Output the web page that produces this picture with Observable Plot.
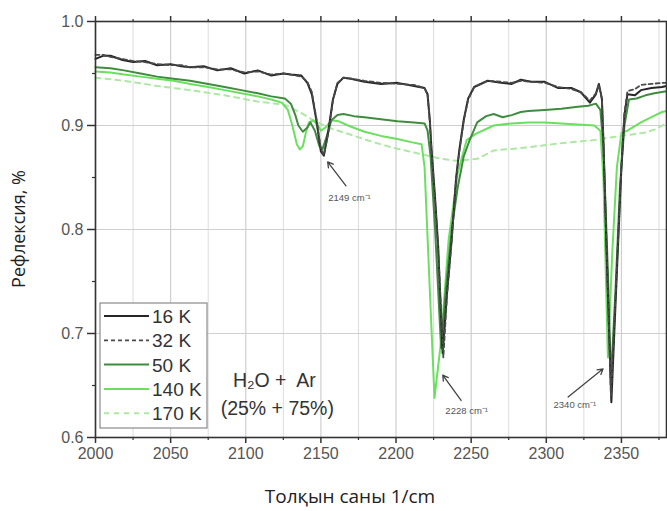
<!DOCTYPE html>
<html>
<head>
<meta charset="utf-8">
<script src="https://cdn.jsdelivr.net/npm/d3@7"></script>
<script src="https://cdn.jsdelivr.net/npm/@observablehq/plot@0.6"></script>
<style>
  html, body { margin: 0; padding: 0; background: #fff; }
  #chart { width: 667px; height: 511px; }
</style>
</head>
<body>
<div id="chart"></div>
<script>
// ---- data ----
const seriesNames = ["16 K", "32 K", "50 K", "140 K", "170 K"];

const wn16 = [2000,2005,2010,2018,2025,2033,2041,2050,2057,2063,2072,2081,2090,2099,2108,2117,2125,2130,2137,2141,2144,2147,2150,2152,2155,2158,2161,2165,2170,2179,2190,2201,2212,2219,2221,2222.5,2223.5,2226,2228,2231,2234,2237,2240,2242,2245,2248,2252,2261,2270,2277,2283,2290,2299,2308,2317,2323,2329,2333,2335,2337,2338,2340.5,2343.3,2347,2350,2352,2354,2359,2363,2370,2377,2380];
const r16  = [0.964,0.967,0.967,0.963,0.961,0.962,0.958,0.959,0.957,0.956,0.957,0.953,0.955,0.950,0.953,0.948,0.950,0.949,0.948,0.941,0.930,0.905,0.875,0.871,0.895,0.925,0.940,0.946,0.945,0.942,0.940,0.941,0.938,0.936,0.930,0.905,0.880,0.830,0.785,0.681,0.740,0.790,0.850,0.875,0.905,0.926,0.937,0.943,0.941,0.940,0.944,0.942,0.942,0.936,0.936,0.932,0.922,0.930,0.940,0.926,0.886,0.760,0.634,0.760,0.860,0.910,0.930,0.929,0.934,0.936,0.937,0.938];

const wn32 = [2000,2005,2010,2018,2025,2033,2041,2050,2057,2063,2072,2081,2090,2099,2108,2117,2125,2130,2137,2141,2144,2147,2150,2152,2155,2158,2161,2165,2170,2179,2190,2201,2212,2219,2221,2222.5,2223.5,2226,2228,2231.5,2234,2237,2240,2242,2245,2248,2252,2261,2270,2277,2283,2290,2299,2308,2317,2323,2329,2333,2335,2337,2338,2340.5,2343,2347,2350,2352,2354,2359,2363,2370,2377,2380];
const r32  = [0.968,0.968,0.966,0.964,0.962,0.961,0.959,0.958,0.958,0.956,0.956,0.954,0.954,0.951,0.952,0.949,0.950,0.949,0.947,0.942,0.932,0.907,0.877,0.872,0.893,0.924,0.941,0.946,0.945,0.943,0.941,0.940,0.939,0.936,0.929,0.903,0.878,0.828,0.782,0.677,0.738,0.788,0.848,0.874,0.904,0.925,0.937,0.943,0.942,0.941,0.943,0.942,0.941,0.937,0.935,0.932,0.924,0.931,0.939,0.925,0.885,0.765,0.640,0.765,0.862,0.912,0.933,0.935,0.939,0.940,0.941,0.941];

const wn50 = [2000,2010,2019,2030,2041,2052,2063,2075,2086,2097,2108,2117,2126,2130,2133,2135,2138,2141,2143,2146,2149,2151,2154,2157,2161,2165,2172,2179,2190,2201,2212,2219,2221,2223,2226,2230,2233,2237,2241,2245,2249,2254,2260,2265,2271,2277,2283,2288,2299,2310,2321,2328,2333,2336,2338,2341,2343,2346,2349,2352,2355,2360,2366,2372,2380];
const r50  = [0.956,0.955,0.953,0.950,0.947,0.945,0.943,0.940,0.937,0.934,0.931,0.928,0.926,0.921,0.910,0.900,0.894,0.898,0.903,0.895,0.880,0.877,0.890,0.905,0.910,0.911,0.909,0.908,0.906,0.904,0.903,0.902,0.895,0.870,0.800,0.686,0.740,0.800,0.840,0.870,0.886,0.903,0.909,0.911,0.908,0.910,0.913,0.914,0.915,0.916,0.918,0.919,0.921,0.915,0.880,0.760,0.655,0.740,0.840,0.900,0.925,0.926,0.929,0.931,0.933];

const wn140 = [2000,2010,2019,2030,2041,2052,2063,2075,2086,2097,2108,2117,2124,2128,2131,2134,2136,2138,2140,2142,2145,2148,2150,2153,2157,2162,2168,2179,2190,2201,2210,2217,2219,2222,2225.6,2230,2235,2241,2247,2253,2265,2277,2288,2299,2310,2321,2332,2336,2338,2341,2344,2347,2350,2354,2363,2370,2377,2380];
const r140  = [0.952,0.951,0.949,0.947,0.945,0.943,0.940,0.937,0.934,0.931,0.928,0.925,0.922,0.915,0.900,0.882,0.877,0.880,0.893,0.903,0.905,0.900,0.895,0.898,0.905,0.904,0.900,0.894,0.890,0.887,0.884,0.882,0.860,0.758,0.638,0.693,0.790,0.854,0.886,0.892,0.900,0.902,0.903,0.903,0.902,0.901,0.900,0.895,0.850,0.677,0.780,0.860,0.893,0.895,0.903,0.908,0.913,0.914];

const wn170 = [2000,2019,2041,2063,2086,2108,2126,2137,2145,2155,2168,2185,2197,2212,2230,2240,2254,2265,2288,2310,2332,2350,2365,2372,2380];
const r170  = [0.946,0.943,0.938,0.934,0.929,0.923,0.920,0.912,0.905,0.898,0.892,0.884,0.879,0.874,0.868,0.866,0.868,0.876,0.879,0.883,0.886,0.890,0.893,0.896,0.902];

const xMajorTicks = [2000,2050,2100,2150,2200,2250,2300,2350];
const xMinorTicks = [2025,2075,2125,2175,2225,2275,2325,2375];
const yMajorTicks = [0.6,0.7,0.8,0.9,1.0];
const yMinorTicks = [0.65,0.75,0.85,0.95];

const peakLabels = ["2149", "2228", "2340"];
const peakTailX = [2166.7, 2243.3, 2314.5];
const peakTailY = [0.842, 0.6356, 0.639];
const peakHeadX = [2154.5, 2231.1, 2337.8];
const peakHeadY = [0.865, 0.660, 0.666];
const peakTextX = [2169, 2247, 2319];
const peakTextY = [0.830, 0.626, 0.631];

const sampleLines = ["H\u2082O +  Ar", "(25% + 75%)"];
const sampleX = [2119, 2121];
const sampleY = [0.655, 0.628];

// ---- build tables ----
const toRows = (xs, ys, name) => xs.map((x, i) => ({x, y: ys[i], s: name}));
const rows = [
  toRows(wn16, r16, seriesNames[0]),
  toRows(wn32, r32, seriesNames[1]),
  toRows(wn50, r50, seriesNames[2]),
  toRows(wn140, r140, seriesNames[3]),
  toRows(wn170, r170, seriesNames[4])
];
const styles = [
  {stroke: "#262626", strokeWidth: 2},
  {stroke: "#4a4a4a", strokeWidth: 1.8, strokeDasharray: "4,3"},
  {stroke: "#3f8c3f", strokeWidth: 2},
  {stroke: "#6be060", strokeWidth: 2},
  {stroke: "#aee8a4", strokeWidth: 2, strokeDasharray: "5,5"}
];
const peaks = peakLabels.map((p, i) => ({p, x1: peakTailX[i], y1: peakTailY[i], x2: peakHeadX[i], y2: peakHeadY[i], tx: peakTextX[i], ty: peakTextY[i]}));

const fontTick = "'Liberation Sans', Arial, sans-serif";

const chart = Plot.plot({
  width: 667,
  height: 511,
  marginTop: 21,
  marginLeft: 95,
  marginRight: 1,
  marginBottom: 74,
  style: {fontFamily: fontTick, fontSize: "16px", color: "#555", background: "#fff"},
  x: {domain: [2000, 2380]},
  y: {domain: [0.6, 1.0]},
  marks: [
    Plot.gridX(xMinorTicks, {stroke: "#dcdcdc", strokeOpacity: 1, strokeWidth: 1}),
    Plot.gridX(xMajorTicks, {stroke: "#cfcfcf", strokeOpacity: 1, strokeWidth: 1.2}),
    Plot.gridY(yMajorTicks, {stroke: "#cfcfcf", strokeOpacity: 1, strokeWidth: 1.2}),
    // series (lightest first)
    Plot.line(rows[4], {x: "x", y: "y", ...styles[4]}),
    Plot.line(rows[3], {x: "x", y: "y", ...styles[3]}),
    Plot.line(rows[2], {x: "x", y: "y", ...styles[2]}),
    Plot.line(rows[0], {x: "x", y: "y", ...styles[0]}),
    Plot.line(rows[1], {x: "x", y: "y", ...styles[1]}),
    // axes
    Plot.axisX({ticks: xMajorTicks, tickSize: 6, tickPadding: 4, tickFormat: d => String(d), label: null, stroke: "#333", fill: "#555", strokeWidth: 1.5}),
    Plot.axisX({ticks: xMinorTicks, tickSize: 3, tickFormat: () => "", label: null, stroke: "#333", strokeWidth: 1.2}),
    Plot.axisX({anchor: "top", ticks: xMajorTicks, tickSize: 6, tickFormat: () => "", label: null, stroke: "#333", strokeWidth: 1.5}),
    Plot.axisX({anchor: "top", ticks: xMinorTicks, tickSize: 3, tickFormat: () => "", label: null, stroke: "#333", strokeWidth: 1.2}),
    Plot.axisY({ticks: yMajorTicks, tickSize: 8, tickPadding: 4, tickFormat: d3.format(".1f"), label: null, stroke: "#333", fill: "#555", strokeWidth: 1.5}),
    Plot.axisY({ticks: yMinorTicks, tickSize: 3, tickFormat: () => "", label: null, stroke: "#333", strokeWidth: 1.2}),
    Plot.axisY({anchor: "right", ticks: yMajorTicks, tickSize: 6, tickFormat: () => "", label: null, stroke: "#333", strokeWidth: 1.5}),
    Plot.frame({stroke: "#333", strokeWidth: 1.6}),
    // peak annotations
    Plot.arrow(peaks, {x1: "x1", y1: "y1", x2: "x2", y2: "y2", stroke: "#444", strokeWidth: 1.3, headLength: 7}),
    Plot.text(peaks, {x: "tx", y: "ty", text: d => d.p + " cm\u207B\u00B9", fill: "#555", fontSize: 9.5}),
    // sample text
    Plot.text(sampleLines, {x: (d, i) => sampleX[i], y: (d, i) => sampleY[i], text: d => d, fill: "#333", fontSize: 19.5})
  ]
});

document.getElementById("chart").appendChild(chart);

// ---- legend and axis titles ----
const svg = d3.select(chart);
const lg = svg.append("g").attr("text-anchor", "start");
lg.append("rect").attr("x", 100).attr("y", 303).attr("width", 107).attr("height", 125)
  .attr("fill", "#fff").attr("stroke", "#8a8a8a").attr("stroke-width", 1.2);
seriesNames.forEach((name, i) => {
  const y = 316 + i * 24.3;
  const st = styles[i];
  lg.append("line").attr("x1", 104).attr("x2", 149).attr("y1", y).attr("y2", y)
    .attr("stroke", st.stroke).attr("stroke-width", st.strokeWidth)
    .attr("stroke-dasharray", st.strokeDasharray || null);
  lg.append("text").attr("x", 152).attr("y", y + 7).text(name)
    .attr("text-anchor", "start")
    .attr("fill", "#333").attr("font-size", 19).attr("font-family", fontTick);
});

svg.append("text").attr("transform", "translate(25,229) rotate(-90)")
  .attr("text-anchor", "middle").attr("fill", "#222")
  .attr("font-family", "'Open Sans', 'Noto Sans', sans-serif").attr("font-size", 18)
  .text("Рефлексия, %");
svg.append("text").attr("x", 350).attr("y", 503)
  .attr("text-anchor", "middle").attr("fill", "#222")
  .attr("font-family", "'Open Sans', 'Noto Sans', sans-serif").attr("font-size", 19)
  .text("Толқын саны 1/cm");
</script>
</body>
</html>
